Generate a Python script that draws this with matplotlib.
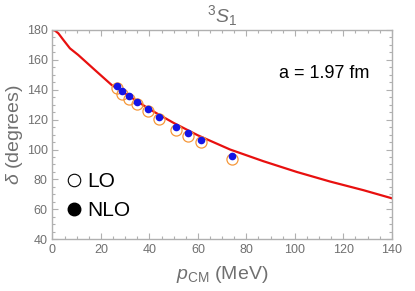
import matplotlib
matplotlib.use("Agg")
import matplotlib.pyplot as plt
from matplotlib.ticker import MultipleLocator
from matplotlib.lines import Line2D

plt.rcParams['font.family'] = ['Liberation Sans', 'DejaVu Sans']
plt.rcParams['mathtext.fontset'] = 'custom'
plt.rcParams['mathtext.it'] = 'Liberation Sans:italic'
plt.rcParams['mathtext.rm'] = 'Liberation Sans'

gray = '#707070'

# red curve
p_curve = [0, 1, 2.4, 4.5, 7.2, 10.6, 17.5, 24.4, 30, 40, 50, 60, 73.3, 87, 100.8, 114.5, 128.3, 140]
d_curve = [180, 179.6, 177.8, 173.3, 167.7, 163.3, 153.2, 143.2, 137.5, 127, 117.8, 109.5, 100, 92.2, 85, 78.6, 72.8, 67.4]

# LO and NLO points
p_pts = [26.5, 28.8, 31.7, 35.0, 39.3, 44.0, 51.1, 55.9, 61.2, 74.0]
d_nlo = [142.5, 139.2, 135.9, 132.1, 127.4, 122.0, 114.9, 111.3, 106.6, 95.7]
d_lo = [141.0, 137.2, 133.8, 130.3, 125.6, 120.5, 113.1, 109.1, 104.9, 93.5]

fig = plt.figure(figsize=(4.15, 2.91), dpi=100)
ax = fig.add_axes([0.1265, 0.178, 0.8175, 0.719])

ax.plot(p_curve, d_curve, color='#e8100f', lw=1.6, zorder=2)
ax.plot(p_pts, d_lo, 'o', ms=8, mfc='none', mec='#f5973a', mew=0.9, zorder=3)
ax.plot(p_pts, d_nlo, 'o', ms=5.5, color='#1414e6', mec='none', zorder=4)

ax.set_xlim(0, 140)
ax.set_ylim(40, 180)
ax.xaxis.set_major_locator(MultipleLocator(20))
ax.xaxis.set_minor_locator(MultipleLocator(5))
ax.yaxis.set_major_locator(MultipleLocator(20))
ax.yaxis.set_minor_locator(MultipleLocator(5))
ax.tick_params(which='both', direction='in', top=True, right=True, colors='#b0b0b0',
               labelcolor=gray, labelsize=9, width=0.8)
ax.tick_params(which='major', length=4)
ax.tick_params(which='minor', length=2)
ax.tick_params(top=True, right=True, labeltop=False, labelright=False)
for s in ax.spines.values():
    s.set_color('#b0b0b0')
    s.set_linewidth(1.0)

ax.set_xlabel(r'$p_{\rm CM}$ (MeV)', color=gray, fontsize=14, labelpad=6)
ax.set_ylabel(r'$\delta$ (degrees)', color=gray, fontsize=14, labelpad=1)
ax.set_title(r'$^3S_1$', color=gray, fontsize=14, pad=6)

ax.text(0.8, 0.79, 'a = 1.97 fm', transform=ax.transAxes, ha='center', va='center',
        fontsize=13, color='black')

handles = [
    Line2D([], [], ls='none', marker='o', ms=9, mfc='white', mec='black', mew=0.8),
    Line2D([], [], ls='none', marker='o', ms=9, color='black'),
]
ax.legend(handles, ['LO', 'NLO'], loc='lower left', bbox_to_anchor=(-0.03, 0.0),
          frameon=False, fontsize=15, handletextpad=0.05, labelspacing=0.5,
          handlelength=1.2)

fig.savefig('out.png', dpi=100)
